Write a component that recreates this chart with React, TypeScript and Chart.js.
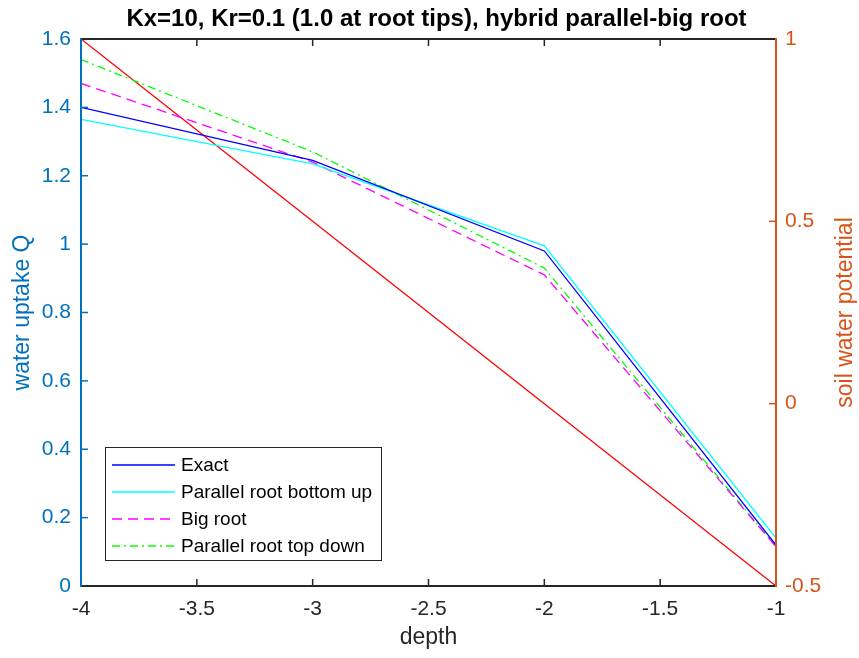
import { useEffect, useRef } from "react";
import { Chart, registerables } from "chart.js";

Chart.register(...registerables);

// ---- data ----
const depth = [-4, -3, -2, -1];
const exact = [1.4, 1.245, 0.98, 0.12];
const bottomUp = [1.365, 1.235, 0.995, 0.14];
const bigRoot = [1.47, 1.24, 0.91, 0.115];
const topDown = [1.54, 1.27, 0.93, 0.115];
const soilPotential = [1, 0.5, 0, -0.5];

const xTicks = [-4, -3.5, -3, -2.5, -2, -1.5, -1];
const leftTicks = [0, 0.2, 0.4, 0.6, 0.8, 1, 1.2, 1.4, 1.6];
const rightTicks = [-0.5, 0, 0.5, 1];

const titleText = "Kx=10, Kr=0.1 (1.0 at root tips), hybrid parallel-big root";
const xLabel = "depth";
const leftLabel = "water uptake Q";
const rightLabel = "soil water potential";
const legendLabels = ["Exact", "Parallel root bottom up", "Big root", "Parallel root top down"];

const FONT = '"Liberation Sans", Arial, Helvetica, sans-serif';
const BLUE = "#0072BD";
const ORANGE = "#D95319";
const DARK = "#262626";

const seriesStyles = [
  { color: "#0000FF", dash: [] as number[] },
  { color: "#00FFFF", dash: [] as number[] },
  { color: "#FF00FF", dash: [10, 6] },
  { color: "#00FF00", dash: [8, 4, 2, 4] },
];

const toPts = (ys: number[]) => depth.map((x, i) => ({ x, y: ys[i] }));

const decoPlugin = {
  id: "deco",
  afterDatasetsDraw(chart: any) {
    const { ctx, chartArea: a, scales } = chart;
    ctx.save();
    const tl = 7;
    ctx.lineWidth = 1.5;
    // x ticks (bottom & top)
    ctx.strokeStyle = DARK;
    for (const v of xTicks) {
      const x = scales.x.getPixelForValue(v);
      ctx.beginPath();
      ctx.moveTo(x, a.bottom);
      ctx.lineTo(x, a.bottom - tl);
      ctx.moveTo(x, a.top);
      ctx.lineTo(x, a.top + tl);
      ctx.stroke();
    }
    ctx.strokeStyle = BLUE;
    for (const v of leftTicks) {
      const y = scales.y.getPixelForValue(v);
      ctx.beginPath();
      ctx.moveTo(a.left, y);
      ctx.lineTo(a.left + tl, y);
      ctx.stroke();
    }
    ctx.strokeStyle = ORANGE;
    for (const v of rightTicks) {
      const y = scales.y2.getPixelForValue(v);
      ctx.beginPath();
      ctx.moveTo(a.right, y);
      ctx.lineTo(a.right - tl, y);
      ctx.stroke();
    }
    // box
    ctx.lineWidth = 2;
    ctx.strokeStyle = DARK;
    ctx.beginPath();
    ctx.moveTo(a.left, a.top);
    ctx.lineTo(a.right, a.top);
    ctx.moveTo(a.left, a.bottom);
    ctx.lineTo(a.right, a.bottom);
    ctx.stroke();
    ctx.strokeStyle = BLUE;
    ctx.beginPath();
    ctx.moveTo(a.left, a.top - 1);
    ctx.lineTo(a.left, a.bottom + 1);
    ctx.stroke();
    ctx.strokeStyle = ORANGE;
    ctx.beginPath();
    ctx.moveTo(a.right, a.top - 1);
    ctx.lineTo(a.right, a.bottom + 1);
    ctx.stroke();

    // legend
    const lx = 105, ly = 447, lw = 276, lh = 113;
    ctx.fillStyle = "#ffffff";
    ctx.fillRect(lx, ly, lw, lh);
    ctx.lineWidth = 1;
    ctx.strokeStyle = DARK;
    ctx.strokeRect(lx + 0.5, ly + 0.5, lw, lh);
    ctx.font = `19px ${FONT}`;
    ctx.textBaseline = "middle";
    ctx.textAlign = "left";
    legendLabels.forEach((lab, i) => {
      const y = 465 + i * 27;
      const st = seriesStyles[i];
      ctx.strokeStyle = st.color;
      ctx.lineWidth = 1.3;
      ctx.setLineDash(st.dash);
      ctx.beginPath();
      ctx.moveTo(112, y);
      ctx.lineTo(175, y);
      ctx.stroke();
      ctx.setLineDash([]);
      ctx.fillStyle = "#000000";
      ctx.fillText(lab, 181, y + 1);
    });

    // title
    ctx.fillStyle = "#000000";
    ctx.font = `bold 24px ${FONT}`;
    ctx.textAlign = "center";
    ctx.textBaseline = "middle";
    ctx.fillText(titleText, (a.left + a.right) / 2 + 8, 19);

    // axis labels
    ctx.font = `23px ${FONT}`;
    ctx.fillStyle = DARK;
    ctx.fillText(xLabel, (a.left + a.right) / 2, 638);

    ctx.fillStyle = BLUE;
    ctx.save();
    ctx.translate(23, (a.top + a.bottom) / 2);
    ctx.rotate(-Math.PI / 2);
    ctx.fillText(leftLabel, 0, 0);
    ctx.restore();

    ctx.fillStyle = ORANGE;
    ctx.save();
    ctx.translate(846, (a.top + a.bottom) / 2);
    ctx.rotate(-Math.PI / 2);
    ctx.fillText(rightLabel, 0, 0);
    ctx.restore();

    ctx.restore();
  },
};

export default function App() {
  const ref = useRef<HTMLCanvasElement | null>(null);
  useEffect(() => {
    if (!ref.current) return;
    const mkLine = (label: string, ys: number[], i: number) => ({
      label,
      data: toPts(ys),
      borderColor: seriesStyles[i].color,
      backgroundColor: seriesStyles[i].color,
      borderDash: seriesStyles[i].dash,
      borderWidth: 1.3,
      pointRadius: 0,
      tension: 0,
      fill: false,
      yAxisID: "y",
    });
    const chart = new Chart(ref.current, {
      type: "line",
      data: {
        datasets: [
          mkLine(legendLabels[0], exact, 0),
          mkLine(legendLabels[1], bottomUp, 1),
          mkLine(legendLabels[2], bigRoot, 2),
          mkLine(legendLabels[3], topDown, 3),
          {
            label: "soil water potential",
            data: toPts(soilPotential),
            borderColor: "#FF0000",
            backgroundColor: "#FF0000",
            borderWidth: 1.3,
            pointRadius: 0,
            tension: 0,
            fill: false,
            yAxisID: "y2",
          },
        ],
      },
      options: {
        responsive: false,
        animation: false,
        layout: { padding: { top: 39, left: 0, right: 0, bottom: 0 } },
        plugins: { legend: { display: false }, tooltip: { enabled: false }, title: { display: false } },
        scales: {
          x: {
            type: "linear",
            min: -4,
            max: -1,
            grid: { display: false, drawTicks: false, tickLength: 0 },
            border: { display: false },
            afterBuildTicks: (s: any) => { s.ticks = xTicks.map((v) => ({ value: v })); },
            afterFit: (s: any) => { s.height = 72; },
            ticks: {
              autoSkip: false,
              maxRotation: 0,
              padding: 11,
              color: DARK,
              font: { family: FONT, size: 21 },
              callback: (v: any) => String(v),
            },
          },
          y: {
            type: "linear",
            position: "left",
            min: 0,
            max: 1.6,
            grid: { display: false, drawTicks: false, tickLength: 0 },
            border: { display: false },
            afterBuildTicks: (s: any) => { s.ticks = leftTicks.map((v) => ({ value: v })); },
            afterFit: (s: any) => { s.width = 81; },
            ticks: {
              autoSkip: false,
              padding: 10,
              color: BLUE,
              font: { family: FONT, size: 21 },
              callback: (v: any) => String(Number(Number(v).toFixed(2))),
            },
          },
          y2: {
            type: "linear",
            position: "right",
            min: -0.5,
            max: 1,
            grid: { display: false, drawTicks: false, tickLength: 0 },
            border: { display: false },
            afterBuildTicks: (s: any) => { s.ticks = rightTicks.map((v) => ({ value: v })); },
            afterFit: (s: any) => { s.width = 83; },
            ticks: {
              autoSkip: false,
              padding: 9,
              color: ORANGE,
              font: { family: FONT, size: 21 },
              callback: (v: any) => String(Number(Number(v).toFixed(2))),
            },
          },
        },
      },
      plugins: [decoPlugin],
    } as any);
    return () => chart.destroy();
  }, []);
  return (
    <canvas
      ref={ref}
      width={859}
      height={658}
      style={{ position: "absolute", left: 0, top: 0, width: 859, height: 658, background: "#fff" }}
    />
  );
}
